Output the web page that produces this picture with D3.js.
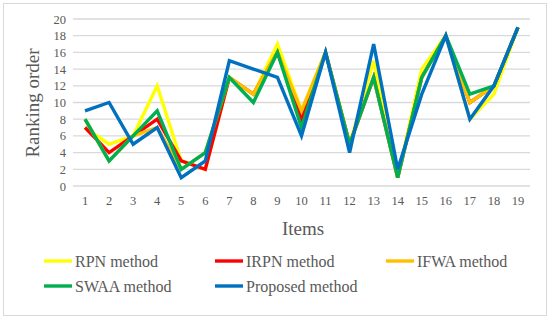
<!DOCTYPE html>
<html>
<head>
<meta charset="utf-8">
<script src="https://cdn.jsdelivr.net/npm/d3@7/dist/d3.min.js"></script>
<style>
  body { margin: 0; background: #fff; }
  text { font-family: "Palatino Linotype", "Liberation Serif", serif; fill: #595959; }
</style>
</head>
<body>
<svg id="chart" width="550" height="320"></svg>
<script>
const items = d3.range(1, 20).map(String);
const yTicks = [0, 2, 4, 6, 8, 10, 12, 14, 16, 18, 20];

const rpn      = [7, 5, 6, 12, 3, 2, 13, 11, 17, 9, 16, 5, 15, 1, 14, 18, 8, 11, 19];
const irpn     = [7, 4, 6, 8, 3, 2, 13, 11, 16, 8, 16, 5, 13, 1, 13, 18, 10, 12, 19];
const ifwa     = [8, 3, 6, 7, 2, 4, 13, 11, 16, 9, 16, 5, 13, 1, 13, 18, 10, 12, 19];
const swaa     = [8, 3, 6, 9, 2, 4, 13, 10, 16, 7, 16, 5, 13, 1, 13, 18, 11, 12, 19];
const proposed = [9, 10, 5, 7, 1, 3, 15, 14, 13, 6, 16, 4, 17, 2, 11, 18, 8, 12, 19];

const series = [
  { name: 'RPN method', color: '#FFFF00', values: rpn },
  { name: 'IRPN method', color: '#FF0000', values: irpn },
  { name: 'IFWA method', color: '#FFC000', values: ifwa },
  { name: 'SWAA method', color: '#00B050', values: swaa },
  { name: 'Proposed method', color: '#0070C0', values: proposed }
];

const svg = d3.select('#chart');

svg.append('rect')
  .attr('x', 3.5).attr('y', 3.5)
  .attr('width', 543).attr('height', 312)
  .attr('fill', 'none').attr('stroke', '#d9d9d9');

const x = d3.scaleBand().domain(items).range([73, 530]);
const y = d3.scaleLinear().domain([0, 20]).range([186, 19]);

// gridlines
svg.append('g')
  .selectAll('line')
  .data(yTicks)
  .join('line')
  .attr('x1', 73).attr('x2', 530)
  .attr('y1', (d) => y(d)).attr('y2', (d) => y(d))
  .attr('stroke', '#d9d9d9')
  .attr('stroke-width', 1.3);

// y axis labels
const yAxis = svg.append('g')
  .attr('transform', 'translate(66,0)')
  .call(d3.axisLeft(y).tickValues(yTicks).tickSize(0).tickPadding(0));
yAxis.select('.domain').remove();
yAxis.selectAll('text')
  .style('font-size', '12.5px')
  .attr('fill', '#595959');

// x axis labels
const xAxis = svg.append('g')
  .attr('transform', 'translate(0,196)')
  .call(d3.axisBottom(x).tickSize(0).tickPadding(0));
xAxis.select('.domain').remove();
xAxis.selectAll('text')
  .style('font-size', '12.5px')
  .attr('fill', '#595959');

// axis titles
svg.append('text')
  .attr('x', 303).attr('y', 235)
  .attr('text-anchor', 'middle')
  .style('font-size', '19px')
  .text('Items');

svg.append('text')
  .attr('transform', 'translate(39,103) rotate(-90)')
  .attr('text-anchor', 'middle')
  .style('font-size', '19px')
  .text('Ranking order');

// lines
const line = d3.line()
  .x((d, i) => x(items[i]) + x.bandwidth() / 2)
  .y((d) => y(d));

svg.append('g')
  .selectAll('path')
  .data(series)
  .join('path')
  .attr('d', (d) => line(d.values))
  .attr('fill', 'none')
  .attr('stroke', (d) => d.color)
  .attr('stroke-width', 3.4)
  .attr('stroke-linejoin', 'miter');

// legend
const legend = svg.append('g')
  .selectAll('g')
  .data(series)
  .join('g')
  .attr('transform', (d, i) => `translate(${44 + (i % 3) * 171},${261 + Math.floor(i / 3) * 25})`);

legend.append('line')
  .attr('x1', 0).attr('x2', 28)
  .attr('stroke', (d) => d.color)
  .attr('stroke-width', 3.4);

legend.append('text')
  .attr('x', 31)
  .attr('y', 5.5)
  .style('font-size', '16px')
  .text((d) => d.name);
</script>
</body>
</html>
